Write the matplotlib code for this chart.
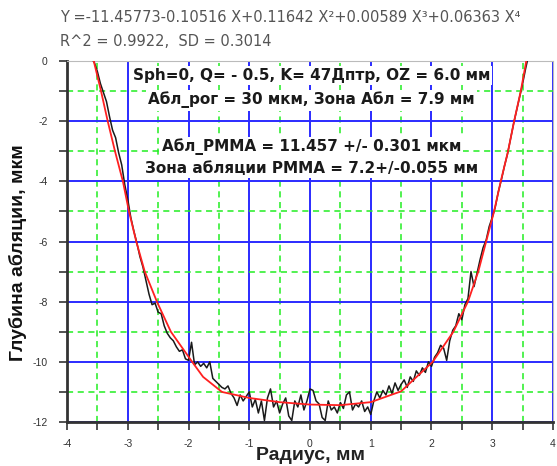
import matplotlib
matplotlib.use("Agg")
import matplotlib.pyplot as plt
import numpy as np
from matplotlib.ticker import MultipleLocator

plt.rcParams["font.family"] = ["Liberation Sans", "DejaVu Sans"]
plt.rcParams["axes.unicode_minus"] = False

# measured profile (step 0.05 mm from -3.60 mm)
x_start = -3.60
x_step = 0.05
depth_measured = [
    0.1, -0.05, -0.35, -0.75, -1.05, -1.35, -1.85, -2.3, -2.55, -3.05,
    -3.45, -4.1, -4.6, -5.2, -5.65, -6.05, -6.5, -6.85, -7.3, -7.75,
    -8.1, -8.05, -8.35, -8.4, -8.8, -9.05, -9.2, -9.3, -9.5, -9.65,
    -9.6, -9.9, -9.95, -9.35, -10.1, -10.0, -10.15, -10.05, -10.2, -10.0,
    -10.55, -10.65,
    -10.75, -10.85, -10.9, -10.8, -11.05, -11.2, -11.45, -11.1, -11.3, -11.15,
    -11.0, -11.5, -11.25, -11.7, -11.3, -11.95, -11.2, -10.9, -11.5, -11.3,
    -11.7, -11.4, -11.2, -11.8, -11.95, -11.3, -11.5, -11.1, -11.6, -11.3,
    -10.9, -10.95, -11.3, -11.4, -11.85, -11.95, -11.3, -11.6, -11.5, -11.7,
    -11.35, -11.55, -11.1, -11.0, -11.6, -11.4, -11.5, -11.3, -11.65, -11.5,
    -11.75, -11.3, -11.0, -11.2, -10.95, -11.1, -10.8, -11.05, -10.7, -10.95,
    -10.75, -10.6, -10.85, -10.5, -10.65, -10.3, -10.45, -10.2, -10.35, -10.0,
    -10.15, -9.85, -9.7, -9.45, -9.55, -9.95, -9.3, -8.95, -8.8, -8.4,
    -8.6, -8.1, -7.9, -7.0, -7.5, -7.05, -6.6, -6.2, -5.95, -5.5,
    -5.2, -4.85, -4.35, -3.95, -3.5, -3.1, -2.6, -2.1, -1.65, -1.2,
    -0.75, -0.25, 0.2,
]
radius_measured = x_start + x_step * np.arange(len(depth_measured))

# fitted curve
radius_fit = [-3.56, -3.44, -3.33, -3.21, -3.08, -2.98, -2.86, -2.72, -2.52, -2.29,
              -1.94, -1.76, -1.45, -1.0, -0.5, 0.0, 0.5, 1.0, 1.5, 2.02,
              2.36, 2.60, 2.77, 2.90, 3.03, 3.14, 3.26, 3.36, 3.47, 3.56]
depth_fit = [0.0, -1.0, -2.0, -3.0, -4.0, -5.0, -6.0, -7.0, -8.0, -9.0,
             -10.0, -10.5, -11.0, -11.2, -11.34, -11.42, -11.44, -11.34, -10.98, -10.0,
             -9.0, -8.0, -7.0, -6.0, -5.0, -4.0, -3.0, -2.0, -1.0, 0.0]

header_lines = [
    "Y =-11.45773-0.10516 X+0.11642 X²+0.00589 X³+0.06363 X⁴",
    "R^2 = 0.9922,  SD = 0.3014",
]
info_lines = [
    "Sph=0, Q= - 0.5, K= 47Дптр, OZ = 6.0 мм",
    "Абл_рог = 30 мкм, Зона Абл = 7.9 мм",
    "Абл_PMMA = 11.457 +/- 0.301 мкм",
    "Зона абляции PMMA = 7.2+/-0.055 мм",
]
info_y = [-0.47, -1.3, -2.86, -3.56]

fig = plt.figure(figsize=(5.57, 4.66), dpi=100)
ax = fig.add_axes([0.1203, 0.0944, 0.8725, 0.7747])

ax.plot(radius_measured, depth_measured, color="#1a1a1a", lw=1.1, zorder=3)
ax.plot(radius_fit, depth_fit, color="#ff2020", lw=1.3, zorder=4)

ax.set_xlim(-4, 4)
ax.set_ylim(-12, 0)
ax.xaxis.set_major_locator(MultipleLocator(1))
ax.xaxis.set_minor_locator(MultipleLocator(0.5))
ax.yaxis.set_major_locator(MultipleLocator(2))
ax.yaxis.set_minor_locator(MultipleLocator(1))

ax.grid(which="major", color="#2b2bff", lw=1.4, zorder=1)
ax.grid(which="minor", color="#22ee22", lw=1.1, ls=(0, (4, 3)), zorder=1)
ax.set_axisbelow(True)

ax.tick_params(which="both", direction="out", length=6, width=1.2, color="#333333",
               labelsize=7.5, labelcolor="#333333")
ax.tick_params(axis="y", pad=8)
ax.tick_params(axis="x", pad=6)
for side in ("left", "bottom"):
    ax.spines[side].set_color("#333333")
    ax.spines[side].set_linewidth(2)
for side in ("top", "right"):
    ax.spines[side].set_color("#bbbbbb")
    ax.spines[side].set_linewidth(0.8)

# axis titles placed by their centres in figure pixels
fig.text(311 / 557, 1 - 456 / 466, "Радиус, мм", fontsize=14, fontweight="bold",
         color="#222222", ha="center", va="center")
fig.text(18 / 557, 1 - 253 / 466, "Глубина абляции, мкм", fontsize=14,
         fontweight="bold", color="#111111", ha="center", va="center", rotation=90)

for i, line in enumerate(header_lines):
    fig.text(60 / 557, 1 - (17 + 24 * i) / 466, line, fontsize=10.5, color="#555555",
             va="center", ha="left", family="DejaVu Sans")

for line, yv in zip(info_lines, info_y):
    ax.text(0.02, yv, line, ha="center", va="center", fontsize=11, fontweight="bold",
            color="#1a1a1a", zorder=6, family="DejaVu Sans",
            bbox=dict(facecolor="white", edgecolor="none", pad=1.5))

fig.savefig("out.png", dpi=100)
